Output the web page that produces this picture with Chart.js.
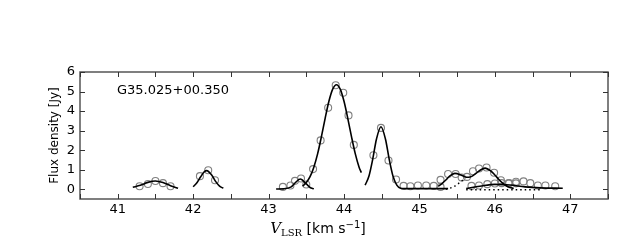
<!DOCTYPE html>
<html lang="en">
<head>
    <meta charset="UTF-8">
    <title>G35.025+00.350 spectrum</title>
    <script src="https://cdn.jsdelivr.net/npm/chart.js"></script>
    <style>
        body { margin: 0; background: #fff; }
        canvas { display: block; }
    </style>
</head>
<body>
    <canvas id="spec" width="640" height="240"></canvas>

    <script>
        // tick positions
        let xTicks = [41, 42, 43, 44, 45, 46, 47];
        let xMinor = [40.5, 41, 41.5, 42, 42.5, 43, 43.5, 44, 44.5, 45, 45.5, 46, 46.5, 47, 47.5];
        let yTicks = [0, 1, 2, 3, 4, 5, 6];

        // observed channels (grey circles)
        let obsV = [41.29, 41.40, 41.50, 41.60, 41.70,
                    42.09, 42.20, 42.29,
                    43.19, 43.29, 43.35, 43.43, 43.50,
                    43.59, 43.69, 43.79, 43.89, 43.99, 44.06, 44.13,
                    44.39, 44.49, 44.59, 44.69, 44.79, 44.88, 44.98, 45.09, 45.19, 45.28,
                    45.28, 45.38, 45.48, 45.56, 45.63, 45.71, 45.79, 45.89, 45.99, 46.08, 46.18, 46.28];
        let obsF = [0.15, 0.27, 0.42, 0.31, 0.15,
                    0.67, 0.97, 0.46,
                    0.12, 0.19, 0.43, 0.55, 0.24,
                    1.03, 2.50, 4.17, 5.32, 4.94, 3.78, 2.27,
                    1.74, 3.14, 1.47, 0.50, 0.17, 0.15, 0.19, 0.19, 0.17, 0.12,
                    0.48, 0.78, 0.78, 0.60, 0.63, 0.92, 1.06, 1.11, 0.84, 0.46, 0.30, 0.30];
        let obs2V = [45.69, 45.79, 45.90, 46.00, 46.09, 46.19, 46.28, 46.38, 46.47, 46.57, 46.67, 46.80];
        let obs2F = [0.17, 0.19, 0.26, 0.29, 0.31, 0.31, 0.38, 0.40, 0.31, 0.19, 0.19, 0.15];

        // fitted profiles (solid)
        let fitAV = [41.2, 41.3, 41.4, 41.5, 41.6, 41.7, 41.8];
        let fitAF = [0.10, 0.20, 0.35, 0.42, 0.34, 0.18, 0.05];
        let fitBV = [42.0, 42.05, 42.1, 42.15, 42.18, 42.25, 42.3, 42.35, 42.4];
        let fitBF = [0.13, 0.33, 0.64, 0.90, 0.95, 0.70, 0.39, 0.16, 0.05];
        let fitCV = [43.1, 43.2, 43.3, 43.35, 43.42, 43.5, 43.55, 43.6];
        let fitCF = [0.01, 0.02, 0.12, 0.32, 0.52, 0.27, 0.09, 0.02];
        let fitDV = [43.45, 43.5, 43.55, 43.6, 43.65, 43.7, 43.75, 43.8, 43.85, 43.9, 43.95, 44.0, 44.05, 44.1, 44.15, 44.2, 44.23];
        let fitDF = [0.16, 0.34, 0.64, 1.13, 1.81, 2.68, 3.63, 4.50, 5.12, 5.35, 5.12, 4.50, 3.63, 2.68, 1.81, 1.13, 0.85];
        let fitEV = [44.28, 44.33, 44.38, 44.43, 44.49, 44.55, 44.6, 44.65, 44.7, 44.75, 44.8, 45.0, 45.38];
        let fitEF = [0.21, 0.66, 1.52, 2.56, 3.20, 2.56, 1.52, 0.66, 0.21, 0.05, 0.03, 0.03, 0.03];
        let fitFV = [45.25, 45.3, 45.35, 45.4, 45.47, 45.55, 45.6, 45.65, 45.7, 45.75, 45.8, 45.87, 45.95, 46.0, 46.05, 46.1, 46.15, 46.2, 46.25];
        let fitFF = [0.15, 0.29, 0.47, 0.67, 0.81, 0.73, 0.64, 0.61, 0.67, 0.81, 0.96, 1.08, 0.92, 0.73, 0.51, 0.32, 0.18, 0.09, 0.04];
        let fitGV = [45.62, 45.8, 46.0, 46.2, 46.4, 46.6, 46.9];
        let fitGF = [0.04, 0.15, 0.25, 0.22, 0.12, 0.07, 0.05];

        // single components (dotted)
        let compAV = [45.35, 45.45, 45.52, 45.58];
        let compAF = [0.0, 0.12, 0.30, 0.48];
        let compBV = [45.62, 46.6];
        let compBF = [-0.03, -0.03];

        let sourceName = 'G35.025+00.350';

        function pts(xs, ys) {
            return xs.map((x, i) => ({ x: x, y: ys[i] }));
        }

        function fitLine(xs, ys, dotted) {
            return {
                type: 'line',
                data: pts(xs, ys),
                borderColor: '#000',
                borderWidth: dotted ? 1.4 : 1.6,
                borderDash: dotted ? [1.5, 3] : [],
                pointRadius: 0,
                fill: false,
                cubicInterpolationMode: 'monotone'
            };
        }

        // frame, inward ticks, axis titles and the source label
        let decor = {
            id: 'decor',
            afterDraw(chart) {
                let ctx = chart.ctx;
                let a = chart.chartArea;
                let sx = chart.scales.x, sy = chart.scales.y;
                ctx.save();
                ctx.strokeStyle = '#555';
                ctx.lineWidth = 1.5;
                ctx.strokeRect(a.left, a.top, a.right - a.left, a.bottom - a.top);

                ctx.lineWidth = 1;
                ctx.strokeStyle = '#333';
                ctx.beginPath();
                for (let v of xMinor) {
                    let px = Math.round(sx.getPixelForValue(v)) + 0.5;
                    ctx.moveTo(px, a.bottom); ctx.lineTo(px, a.bottom - 5);
                    ctx.moveTo(px, a.top); ctx.lineTo(px, a.top + 5);
                }
                for (let v of yTicks) {
                    let py = Math.round(sy.getPixelForValue(v)) + 0.5;
                    ctx.moveTo(a.left, py); ctx.lineTo(a.left + 5, py);
                    ctx.moveTo(a.right, py); ctx.lineTo(a.right - 5, py);
                }
                ctx.stroke();

                ctx.fillStyle = '#000';
                ctx.font = '13px "DejaVu Sans"';
                ctx.textAlign = 'left';
                ctx.textBaseline = 'middle';
                ctx.fillText(sourceName, 117, 91);

                // y title
                ctx.save();
                ctx.translate(55, (a.top + a.bottom) / 2);
                ctx.rotate(-Math.PI / 2);
                ctx.textAlign = 'center';
                ctx.font = '12px "DejaVu Sans"';
                ctx.fillText('Flux density [Jy]', 0, 0);
                ctx.restore();

                // x title: V_LSR [km s^-1]
                let parts = [
                    { t: 'V', f: 'italic 15px "DejaVu Serif"', dy: 0 },
                    { t: 'LSR', f: '10px "DejaVu Serif"', dy: 3 },
                    { t: ' [km s', f: '14px "DejaVu Sans"', dy: 0 },
                    { t: '\u22121', f: '10px "DejaVu Sans"', dy: -5 },
                    { t: ']', f: '14px "DejaVu Sans"', dy: 0 }
                ];
                let total = 0;
                for (let p of parts) { ctx.font = p.f; p.w = ctx.measureText(p.t).width; total += p.w; }
                let cx = 318 - total / 2;
                ctx.textBaseline = 'alphabetic';
                ctx.textAlign = 'left';
                for (let p of parts) {
                    ctx.font = p.f;
                    ctx.fillText(p.t, cx, 233 + p.dy);
                    cx += p.w;
                }
                ctx.restore();
            }
        };

        let tickFont = { family: 'DejaVu Sans', size: 13 };

        new Chart(document.getElementById('spec'), {
            data: {
                datasets: [
                    fitLine(fitAV, fitAF), fitLine(fitBV, fitBF), fitLine(fitCV, fitCF),
                    fitLine(fitDV, fitDF), fitLine(fitEV, fitEF), fitLine(fitFV, fitFF),
                    fitLine(fitGV, fitGF),
                    fitLine(compAV, compAF, true), fitLine(compBV, compBF, true),
                    {
                        type: 'scatter',
                        data: pts(obsV, obsF).concat(pts(obs2V, obs2F)),
                        pointStyle: 'circle',
                        pointRadius: 3.5,
                        borderColor: '#808080',
                        borderWidth: 1.1,
                        backgroundColor: 'rgba(0,0,0,0)'
                    }
                ]
            },
            options: {
                responsive: false,
                animation: false,
                events: [],
                layout: { padding: { left: 0, right: 32, top: 72, bottom: 0 } },
                plugins: { legend: { display: false }, tooltip: { enabled: false } },
                scales: {
                    x: {
                        type: 'linear', min: 40.5, max: 47.5,
                        afterBuildTicks: s => { s.ticks = xTicks.map(v => ({ value: v })); },
                        afterFit: s => { s.height = 41; },
                        grid: { display: false, drawTicks: false },
                        border: { display: false },
                        ticks: { color: '#000', font: tickFont, padding: 3, maxRotation: 0 }
                    },
                    y: {
                        type: 'linear', min: -0.5, max: 6,
                        afterBuildTicks: s => { s.ticks = yTicks.map(v => ({ value: v })); },
                        afterFit: s => { s.width = 80; },
                        grid: { display: false, drawTicks: false },
                        border: { display: false },
                        ticks: { color: '#000', font: tickFont, padding: 5 }
                    }
                }
            },
            plugins: [decor]
        });
    </script>
</body>
</html>
